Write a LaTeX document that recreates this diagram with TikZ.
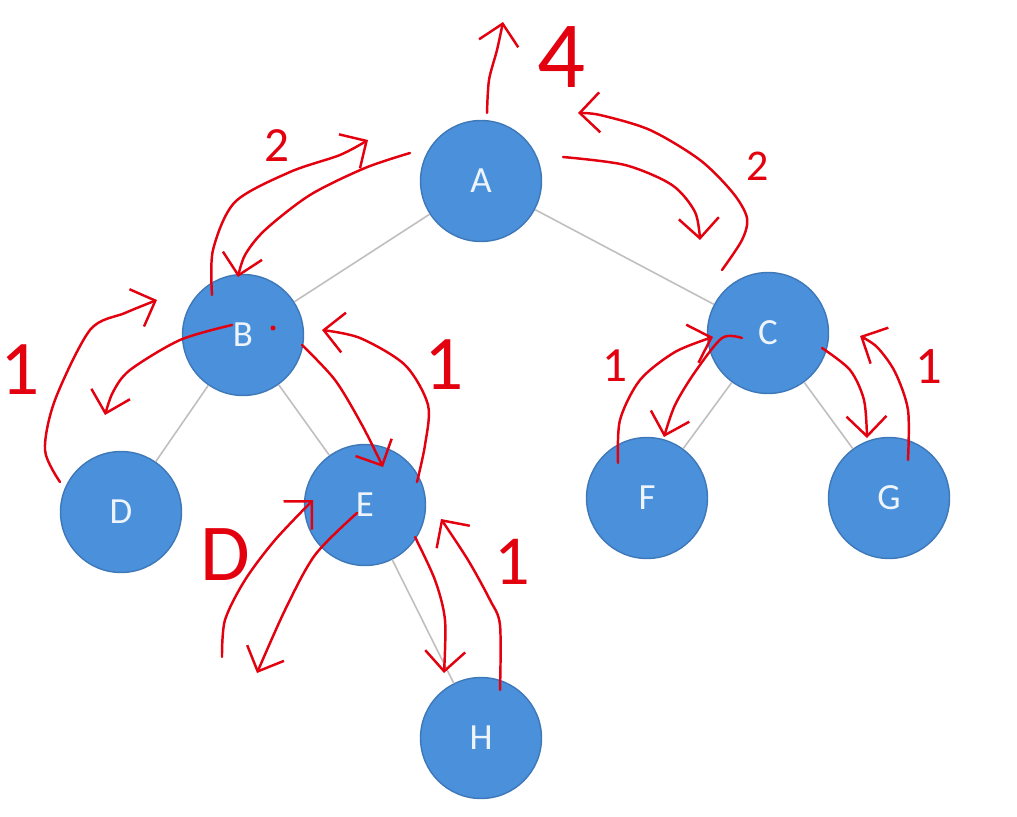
\documentclass[tikz,border=0pt]{standalone}
\usepackage{fontspec}
\setmainfont{Carlito}
\usetikzlibrary{arrows.meta}

\definecolor{nodeblue}{HTML}{4A90DA}
\definecolor{nodeedge}{HTML}{3E78B8}
\definecolor{ink}{HTML}{E3000F}

\tikzset{
  vertex/.style={draw=nodeedge, line width=0.8pt, shape=circle, fill=nodeblue, minimum size=2.42cm, inner sep=0pt, text=white!90!nodeblue, font=\fontsize{21}{25}\selectfont},
  branch/.style={draw=black!25, line width=0.9pt},
  pen/.style={draw=ink, line width=1.4pt, line cap=round, line join=round},
  penarrow/.style={pen, -{Straight Barb[length=4mm,width=8mm]}},
  scrawl/.style={text=ink, inner sep=0pt}
}

\begin{document}
\begin{tikzpicture}[x=0.02cm, y=-0.02cm]

\fill[white] (0,0) rectangle (1017,817);
\useasboundingbox (0,0) rectangle (1017,817);

\node[vertex] (a) at (481,181) {A};
\node[vertex] (b) at (243,335) {B};
\node[vertex] (c) at (768,333) {C};
\node[vertex] (d) at (121,512) {D};
\node[vertex] (e) at (365,505) {E};
\node[vertex] (f) at (647,498) {F};
\node[vertex] (g) at (889,498) {G};
\node[vertex] (h) at (481,738) {H};

% tree edges
\draw[branch] (a) to (b);
\draw[branch] (a) to (c);
\draw[branch] (b) to (d);
\draw[branch] (b) to (e);
\draw[branch] (c) to (f);
\draw[branch] (c) to (g);
\draw[branch] (e) to (h);

% red annotations
\draw[penarrow] plot[smooth] coordinates {(487,113) (489,80) (497,50) (503,22)};
\draw[penarrow] plot[smooth] coordinates {(563,157) (625,165) (672,185) (695,212) (700,240)};
\draw[penarrow] plot[smooth] coordinates {(722,270) (742,240) (747,218) (733,193) (700,160) (650,130) (600,115) (578,113)};
\draw[penarrow] plot[smooth] coordinates {(212,295) (213,250) (235,202) (290,172) (340,155) (368,140)};
\draw[penarrow] plot[smooth] coordinates {(410,153) (365,168) (310,195) (265,230) (245,255) (238,277)};
\draw[penarrow] plot[smooth] coordinates {(60,482) (45,450) (55,400) (90,330) (125,313) (157,300)};
\draw[penarrow] plot[smooth] coordinates {(232,325) (180,340) (130,370) (113,392) (105,415)};
\draw[penarrow] plot[smooth] coordinates {(302,345) (335,380) (362,425) (383,467)};
\draw[penarrow] plot[smooth] coordinates {(417,482) (425,445) (428,405) (405,365) (360,338) (322,330)};
\draw[penarrow] plot[smooth] coordinates {(357,513) (315,555) (285,610) (257,673)};
\draw[penarrow] plot[smooth] coordinates {(222,657) (225,620) (245,580) (275,540) (313,500)};
\draw[penarrow] plot[smooth] coordinates {(415,537) (435,580) (445,620) (444,673)};
\draw[penarrow] plot[smooth] coordinates {(500,690) (500,625) (490,600) (468,560) (441,519)};
\draw[penarrow] plot[smooth] coordinates {(742,338) (722,338) (695,372) (675,405) (664,437)};
\draw[penarrow] plot[smooth] coordinates {(618,463) (620,420) (640,380) (675,352) (713,337)};
\draw[penarrow] plot[smooth] coordinates {(822,348) (850,370) (864,400) (867,438)};
\draw[penarrow] plot[smooth] coordinates {(908,460) (908,410) (895,372) (877,347) (860,336)};
\fill[ink] (273,328) circle (2.5);

\node[scrawl, font=\fontsize{54}{58}\selectfont] (l4) at (562,57) {4};
\node[scrawl, font=\fontsize{28}{32}\selectfont] (l2a) at (277,146) {2};
\node[scrawl, font=\fontsize{25}{30}\selectfont] (l2c) at (758,166) {2};
\node[scrawl, font=\fontsize{44}{48}\selectfont] (l1b) at (20,370) {1};
\node[scrawl, font=\fontsize{44}{48}\selectfont] (l1e) at (444,365) {1};
\node[scrawl, font=\fontsize{28}{32}\selectfont] (l1f) at (615,366) {1};
\node[scrawl, font=\fontsize{30}{34}\selectfont] (l1g) at (929,367) {1};
\node[scrawl, font=\fontsize{46}{50}\selectfont] (l0e) at (225,555) {D};
\node[scrawl, font=\fontsize{40}{44}\selectfont] (l1h) at (512,562) {1};

\end{tikzpicture}
\end{document}
